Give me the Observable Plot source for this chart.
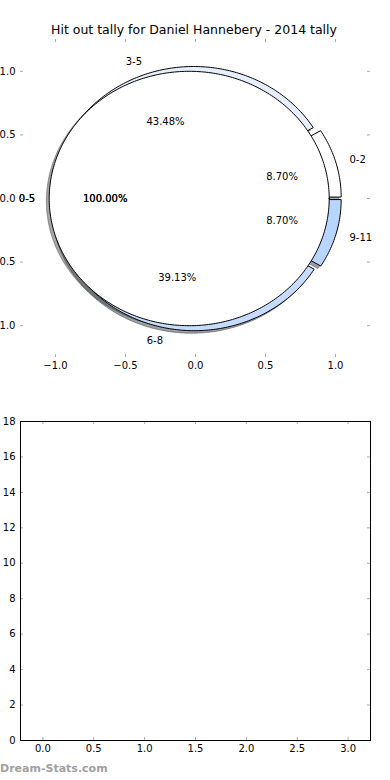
<!DOCTYPE html>
<html><head><meta charset="utf-8">
<script src="https://cdn.jsdelivr.net/npm/d3@7"></script>
<script src="https://cdn.jsdelivr.net/npm/@observablehq/plot@0.6"></script>
<style>
body{margin:0;background:#fff;}
#wrap{position:relative;width:390px;height:780px;overflow:hidden;font-family:"DejaVu Sans";background:#fff;}
#title{position:absolute;left:0;width:388px;top:22px;text-align:center;font-size:12.5px;color:#000;white-space:nowrap;}
#top{position:absolute;left:0;top:0;}
#bot{position:absolute;left:0;top:400px;}
#wm{position:absolute;left:0;top:762px;font-size:11px;font-weight:bold;color:#a0a0a0;white-space:nowrap;}
</style></head><body>
<div id="wrap"><div id="top"></div><div id="bot"></div><div id="title"></div><div id="wm"></div></div>
<script>
// ---- data ----
const chartTitle = "Hit out tally for Daniel Hannebery - 2014 tally";
const watermark = "Dream-Stats.com";
const outerLabels = ["0-2", "3-5", "6-8", "9-11"];
const outerCounts = [2, 10, 9, 2];
const outerColors = ["#ffffff", "#e8effc", "#c6dbfd", "#b7d5ff"];
const outerExplode = [0.042, 0.04, 0.04, 0.042];
const innerLabels = ["0-5"];
const innerCounts = [23];
const innerColors = ["#ffffff"];
const innerExplode = [0.045];
const pieTicks = [-1, -0.5, 0, 0.5, 1];
const barXTicks = [0, 0.5, 1, 1.5, 2, 2.5, 3];
const barYTicks = [0, 2, 4, 6, 8, 10, 12, 14, 16, 18];

document.getElementById("title").textContent = chartTitle;
document.getElementById("wm").textContent = watermark;

function pie(labels, counts, colors, explode, group) {
  const total = d3.sum(counts);
  let a0 = 0;
  return labels.map((lab, i) => {
    const frac = counts[i] / total;
    const a1 = a0 + frac * 2 * Math.PI;
    const am = (a0 + a1) / 2;
    const cx = explode[i] * Math.cos(am), cy = explode[i] * Math.sin(am);
    const pts = [];
    if (frac < 0.9999) pts.push([cx, cy]);
    const n = Math.max(2, Math.ceil((a1 - a0) / (Math.PI / 180)));
    for (let k = 0; k <= n; k++) {
      const a = a0 + (a1 - a0) * k / n;
      pts.push([cx + Math.cos(a), cy + Math.sin(a)]);
    }
    const w = {id: group + i, label: lab, pct: (frac * 100).toFixed(2) + "%", color: colors[i], cx, cy, am, pts};
    a0 = a1;
    return w;
  });
}
const outer = pie(outerLabels, outerCounts, outerColors, outerExplode, "o");
const inner = pie(innerLabels, innerCounts, innerColors, innerExplode, "i");
const all = [...outer, ...inner];

const shade = c => { const r = d3.rgb(c); return d3.rgb(r.r * 0.3, r.g * 0.3, r.b * 0.3).formatHex(); };
const shadowRows = all.flatMap(w => w.pts.map(([x, y]) => ({id: w.id, x: x - 0.02, y: y - 0.02, fill: shade(w.color)})));
const outerRows = outer.flatMap(w => w.pts.map(([x, y]) => ({id: w.id, x, y, fill: w.color})));
const innerRows = inner.flatMap(w => w.pts.map(([x, y]) => ({id: w.id, x, y, fill: w.color})));
const labelRows = all.map(w => ({x: w.cx + 1.1 * Math.cos(w.am), y: w.cy + 1.1 * Math.sin(w.am), text: w.label}));
const pctRows = all.map(w => ({x: w.cx + 0.6 * Math.cos(w.am), y: w.cy + 0.6 * Math.sin(w.am), text: w.pct}));
const innerLab = labelRows.slice(outer.length), innerPct = pctRows.slice(outer.length);

const f1 = d3.format(".1f");
const tickColor = "#a8a8a8";
const baseStyle = {fontFamily: "DejaVu Sans", fontSize: "10px", color: "#000", background: "transparent", overflow: "visible"};

// ---- top: pie ----
const topH = 380, tML = 20, tMR = 20, tMT = 39, tMB = 23;
const tFW = 390 - tML - tMR, tFH = topH - tMT - tMB;
const topPlot = Plot.plot({
  width: 390, height: topH,
  marginLeft: tML, marginRight: tMR, marginTop: tMT, marginBottom: tMB,
  x: {domain: [-1.25, 1.25], axis: null},
  y: {domain: [-1.25, 1.25], axis: null},
  color: {type: "identity"},
  style: baseStyle,
  marks: [
    Plot.line(shadowRows, {x: "x", y: "y", z: "id", fill: "fill", stroke: "fill", fillOpacity: 0.5, strokeOpacity: 0.5, strokeWidth: 1, curve: "linear-closed"}),
    Plot.line(outerRows, {x: "x", y: "y", z: "id", fill: "fill", stroke: "#000", strokeWidth: 1, curve: "linear-closed"}),
    Plot.line(innerRows, {x: "x", y: "y", z: "id", fill: "fill", stroke: "#000", strokeWidth: 1, curve: "linear-closed"}),
    Plot.text(labelRows.filter(d => d.x > 0), {x: "x", y: "y", text: "text", textAnchor: "start", fill: "#000", fontSize: 10}),
    Plot.text(labelRows.filter(d => d.x <= 0), {x: "x", y: "y", text: "text", textAnchor: "end", fill: "#000", fontSize: 10}),
    Plot.text(pctRows, {x: "x", y: "y", text: "text", textAnchor: "middle", fill: "#000", fontSize: 10}),
    Plot.text(innerLab, {x: "x", y: "y", text: "text", textAnchor: "end", fill: "#000", fontSize: 10}),
    Plot.text(innerPct, {x: "x", y: "y", text: "text", textAnchor: "middle", fill: "#000", fontSize: 10}),
    Plot.tickX(pieTicks, {x: d => d, insetTop: tFH - 3, stroke: tickColor}),
    Plot.tickX(pieTicks, {x: d => d, insetBottom: tFH - 3, stroke: tickColor}),
    Plot.tickY(pieTicks, {y: d => d, insetRight: tFW - 3, stroke: tickColor}),
    Plot.tickY(pieTicks, {y: d => d, insetLeft: tFW - 3, stroke: tickColor}),
    Plot.axisX(pieTicks, {anchor: "bottom", label: null, tickSize: 0, tickPadding: 4, tickFormat: f1, fill: "#000"}),
    Plot.axisY(pieTicks, {anchor: "left", label: null, tickSize: 0, tickPadding: 5, tickFormat: f1, fill: "#000"})
  ]
});
document.getElementById("top").append(topPlot);

// ---- bottom: empty axes ----
const botH = 380, bML = 20, bMR = 20, bMT = 21, bMB = 40;
const bFW = 390 - bML - bMR, bFH = botH - bMT - bMB;
const botPlot = Plot.plot({
  width: 390, height: botH,
  marginLeft: bML, marginRight: bMR, marginTop: bMT, marginBottom: bMB,
  x: {domain: [-0.22, 3.22], axis: null},
  y: {domain: [0, 18], axis: null},
  style: baseStyle,
  marks: [
    Plot.tickX(barXTicks, {x: d => d, insetTop: bFH - 3, stroke: tickColor}),
    Plot.tickX(barXTicks, {x: d => d, insetBottom: bFH - 3, stroke: tickColor}),
    Plot.tickY(barYTicks, {y: d => d, insetRight: bFW - 3, stroke: tickColor}),
    Plot.tickY(barYTicks, {y: d => d, insetLeft: bFW - 3, stroke: tickColor}),
    Plot.frame({stroke: "#000", strokeWidth: 1}),
    Plot.axisX(barXTicks, {anchor: "bottom", label: null, tickSize: 0, tickPadding: 4, tickFormat: f1, fill: "#000"}),
    Plot.axisY(barYTicks, {anchor: "left", label: null, tickSize: 0, tickPadding: 5, tickFormat: d3.format("d"), fill: "#000"})
  ]
});
document.getElementById("bot").append(botPlot);
</script>
</body></html>
